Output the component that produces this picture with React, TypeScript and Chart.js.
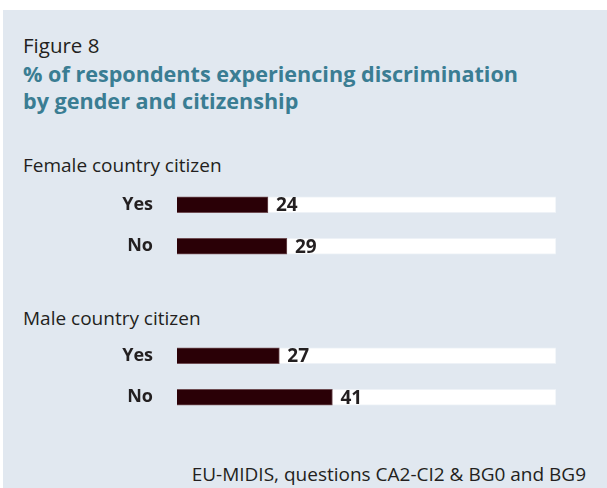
import React, { useEffect, useRef } from "react";
import { Chart, registerables } from "chart.js";

Chart.register(...registerables);

const figureLabel = "Figure 8";
const titleLines = [
  "% of respondents experiencing discrimination",
  "by gender and citizenship",
];
const categories = ["Yes", "No"];
const groupLabels = ["Female country citizen", "Male country citizen"];
const femaleValues = [24, 29];
const maleValues = [27, 41];
const scaleMax = 100;
const sourceNote = "EU-MIDIS, questions CA2-CI2 & BG0 and BG9";

const FONT = "'Open Sans', 'Noto Sans', sans-serif";
const BAR_COLOR = "#2a0006";
const BAR_BORDER = "#6e4c52";
const TEXT_DARK = "#231f20";
const TEAL = "#3a7d93";
const PANEL_BG = "#e1e8f0";

const valueLabelPlugin = {
  id: "valueLabels",
  afterDatasetsDraw(chart: any) {
    const ctx = chart.ctx;
    const meta = chart.getDatasetMeta(0);
    const data = chart.data.datasets[0].data as number[];
    ctx.save();
    ctx.font = `bold 19px ${FONT}`;
    ctx.fillStyle = TEXT_DARK;
    ctx.textAlign = "left";
    ctx.textBaseline = "middle";
    meta.data.forEach((el: any, i: number) => {
      ctx.fillText(String(data[i]), el.x + 8, el.y + 1);
    });
    ctx.restore();
  },
};

function GroupChart({ values, top }: { values: number[]; top: number }) {
  const ref = useRef<HTMLCanvasElement | null>(null);
  useEffect(() => {
    if (!ref.current) return;
    const chart = new Chart(ref.current, {
      type: "bar",
      data: {
        labels: categories,
        datasets: [
          {
            data: values,
            backgroundColor: BAR_COLOR,
            borderColor: BAR_BORDER,
            borderWidth: 1,
            barThickness: 16,
            grouped: false,
          } as any,
          {
            data: categories.map(() => scaleMax),
            backgroundColor: "#ffffff",
            borderColor: "#eef2f7",
            borderWidth: 1,
            barThickness: 16,
            grouped: false,
          } as any,
        ],
      },
      options: {
        indexAxis: "y",
        animation: false,
        responsive: true,
        maintainAspectRatio: false,
        layout: { padding: { left: 0, right: 51, top: 0, bottom: 0 } },
        plugins: {
          legend: { display: false },
          tooltip: { enabled: false },
          title: { display: false },
        },
        scales: {
          x: { display: false, min: 0, max: scaleMax },
          y: {
            grid: {
              display: true,
              drawOnChartArea: false,
              drawTicks: true,
              tickLength: 24,
              color: "rgba(0,0,0,0)",
            },
            border: { display: false },
            ticks: {
              padding: 0,
              color: TEXT_DARK,
              font: { family: FONT, size: 18, weight: "bold" },
            },
            afterFit(scale: any) {
              scale.width = 177;
              scale.paddingTop = 0;
              scale.paddingBottom = 0;
            },
          },
        },
      },
      plugins: [valueLabelPlugin],
    });
    return () => chart.destroy();
  }, [values]);
  return (
    <div style={{ position: "absolute", left: 0, top, width: 607, height: 83 }}>
      <canvas ref={ref} />
    </div>
  );
}

export default function App() {
  useEffect(() => {
    document.body.style.margin = "0";
  }, []);
  const textBase: React.CSSProperties = {
    position: "absolute",
    fontFamily: FONT,
    whiteSpace: "nowrap",
    margin: 0,
  };
  return (
    <div style={{ position: "relative", width: 607, height: 488, background: "#ffffff", overflow: "hidden" }}>
      <div style={{ position: "absolute", left: 3, top: 10, width: 604, height: 478, background: PANEL_BG }} />
      <div style={{ ...textBase, left: 23, top: 33, fontSize: 20.5, lineHeight: "24px", color: TEXT_DARK }}>
        {figureLabel}
      </div>
      <div style={{ ...textBase, left: 23, top: 61, fontSize: 21.6, lineHeight: "26.5px", fontWeight: 700, color: TEAL }}>
        {titleLines.map((l) => (
          <div key={l}>{l}</div>
        ))}
      </div>
      <div style={{ ...textBase, left: 23, top: 153, fontSize: 19, lineHeight: "24px", color: TEXT_DARK }}>
        {groupLabels[0]}
      </div>
      <div style={{ ...textBase, left: 23, top: 306, fontSize: 19, lineHeight: "24px", color: TEXT_DARK }}>
        {groupLabels[1]}
      </div>
      <GroupChart values={femaleValues} top={184} />
      <GroupChart values={maleValues} top={335} />
      <div style={{ ...textBase, right: 21, top: 462, fontSize: 19, lineHeight: "24px", color: TEXT_DARK }}>
        {sourceNote}
      </div>
    </div>
  );
}
